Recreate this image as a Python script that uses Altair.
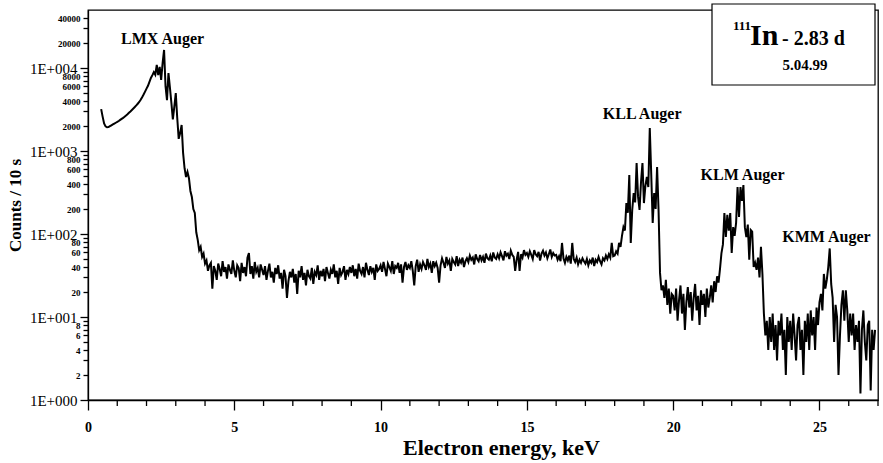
import altair as alt
import pandas as pd

FONT = "Liberation Serif"
STEP = 0.05  # keV between successive channel groups

# Counts / 10 s, one value per 0.05 keV, grouped by spectral region
lmx_start = 0.45
lmx_counts = [3200, 2600, 2150, 1980, 1930, 1940, 1990, 2040, 2090, 2140,
              2190, 2240, 2300, 2370, 2440, 2510, 2590, 2680, 2780, 2890,
              3000, 3120, 3250, 3390, 3540, 3710, 3900, 4150, 4450, 4800,
              5200, 5650, 6100, 6800, 7600, 8200, 8900, 8300, 10900, 8200,
              10300, 7200, 11500, 16500, 6000, 4100, 8700, 5800, 3800, 2400,
              3430, 5000, 2500, 1400, 1650, 2060, 950, 620, 486, 560,
              470, 330, 279, 200, 179, 105, 85, 64, 70, 53,
              58, 44, 48, 36, 42]

plateau_start = 4.20
plateau_counts = [
    45, 22, 41, 36, 28, 44, 38, 31, 47, 35, 40, 29, 43, 37, 33, 48,
    36, 30, 42, 39, 27, 45, 34, 40, 31, 52, 59, 33, 41, 29, 46, 35, 39, 30, 43, 37,
    32, 41, 28, 36, 44, 30, 35, 26, 39, 33, 42, 29, 34, 22, 37, 31, 17, 27, 35, 30,
    38, 26, 33, 19, 36, 30, 41, 28, 34, 24, 37, 31, 29, 39, 25, 35, 32, 42, 28, 36,
    31, 38, 27, 40, 34, 29, 37, 33, 43, 30, 36, 25, 39, 32, 35, 41, 28, 37, 33, 40,
    34, 42, 31, 38, 29, 44, 36, 33, 40, 30, 45, 37, 32, 41, 35, 39, 28, 43, 36, 38,
    42, 35, 46, 38, 31, 44, 40, 36, 47, 33, 41, 39, 45, 34, 43, 26, 40, 46, 37, 42,
    39, 47, 36, 24, 41, 49, 35, 43, 38, 46, 42, 37, 50, 40, 44, 34, 47, 41, 45, 39,
    26, 42, 51, 45, 39, 53, 44, 48, 36, 50, 46, 43, 54, 41, 49, 45, 52, 40, 47, 51,
    46, 55, 49, 52, 43, 57, 50, 47, 56, 48, 53, 45, 58, 51, 49, 55, 47, 60, 52, 50,
    57, 51, 60, 54, 48, 62, 55, 58, 50, 63, 56, 53, 36, 49, 61, 36, 57, 52, 64, 56,
    59, 53, 62, 56, 50, 64, 57, 54, 61, 48, 58, 63, 55, 60, 51, 57, 65, 53, 59, 55,
    56, 49, 54, 47, 78, 51, 45, 53, 48, 55, 44, 78, 50, 46, 52, 43, 49, 45, 51, 47,
    44, 50, 42, 48, 45, 52, 41, 49, 46, 53, 47, 43, 51, 48, 55, 50, 57, 52, 78, 54,
]

kll_start = 18.00
kll_counts = [
    55, 62, 58, 78, 70, 95, 121, 110, 236, 180, 514, 78, 195, 312, 240, 717, 280, 195, 420, 717,
    236, 380, 486, 368, 1893, 520, 136, 312, 200, 641, 195, 34, 21, 24, 17, 28, 14, 22, 11, 19,
]

klm_start = 20.00
klm_counts = [
    18, 12, 22, 9, 16, 24, 11, 19, 7, 15, 23, 13, 20, 9, 17, 25, 12, 18, 8, 21,
    14, 19, 10, 22, 13, 17, 24, 15, 27, 20, 31, 26, 38, 59, 75, 179, 92, 170, 110, 179,
    59, 121, 95, 136, 368, 160, 368, 250, 389, 121, 92, 130, 49, 112, 107, 40, 45, 37, 52, 30,
    70, 33, 11, 6,
]

kmm_start = 23.20
kmm_counts = [
    9, 4, 10, 5, 11, 4, 8, 3, 9, 6, 11, 4, 7, 2, 10, 5, 9, 4, 11, 6,
    3, 8, 10, 4, 7, 2, 9, 5, 11, 4, 12, 6, 10, 4, 13, 8, 15, 19, 12, 33,
    22, 28, 40, 67, 25, 17, 5, 14, 10, 2, 6, 14, 21, 9, 21, 12, 5, 11, 6, 11,
    4, 8, 5, 9, 1.2, 7, 12, 5, 3, 8, 9, 1.3, 7, 4, 7,
]

# Peak-group annotations (energy in keV, counts)
peak_names = ["LMX Auger", "KLL Auger", "KLM Auger", "KMM Auger"]
peak_label_energy = [2.55, 18.94, 22.37, 25.24]
peak_label_counts = [22400, 2790, 514, 91]

# Axis ticks
major_ticks = [1, 10, 100, 1000, 10000]
y_ticks = [m * 10 ** d for d in range(4) for m in range(1, 10)] + [10000, 20000, 30000, 40000]
labelled_minor = [2, 4, 6, 8, 20, 40, 60, 80, 200, 400, 600, 800,
                  2000, 4000, 6000, 8000, 20000, 40000]
x_major = [0, 5, 10, 15, 20, 25]
x_minor = [e for e in range(1, 28) if e % 5]

segments = [(lmx_start, lmx_counts), (plateau_start, plateau_counts),
            (kll_start, kll_counts), (klm_start, klm_counts), (kmm_start, kmm_counts)]
rows = []
for start, counts in segments:
    for i, c in enumerate(counts):
        rows.append({"energy": round(start + STEP * i, 3), "counts": c})
spectrum = pd.DataFrame(rows)

labels = pd.DataFrame({"name": peak_names, "energy": peak_label_energy,
                       "counts": peak_label_counts})
minor_x = pd.DataFrame({"energy": x_minor})

W, H = 790, 390
is_major = "indexof(%s, datum.value) >= 0" % str(major_ticks)
y_label_expr = (
    f"{is_major} ? '1E+00' + round(log(datum.value) / LN10) : "
    f"(indexof({labelled_minor}, datum.value) >= 0 ? '' + datum.value : '')"
)

x_scale = alt.Scale(domain=[0, 27], nice=False, zero=False)
y_scale = alt.Scale(type="log", domain=[1, 50000], nice=False)

line = alt.Chart(spectrum).mark_line(color="black", strokeWidth=2.0, clip=True).encode(
    x=alt.X("energy:Q", scale=x_scale, title="Electron energy, keV",
            axis=alt.Axis(values=x_major, grid=False, tickSize=10,
                          labelPadding=10, labelFont=FONT, labelFontSize=14,
                          labelFontWeight="bold", labelFlush=False, labelOverlap=False,
                          titleFont=FONT, titleFontSize=22, titleFontWeight="bold",
                          titleX=413, titleY=47, titleBaseline="middle")),
    y=alt.Y("counts:Q", scale=y_scale, title="Counts / 10 s",
            axis=alt.Axis(values=y_ticks, grid=False, labelExpr=y_label_expr,
                          tickSize={"condition": {"test": is_major, "value": 8}, "value": 5},
                          labelFontSize={"condition": {"test": is_major, "value": 15}, "value": 9},
                          labelFontWeight={"condition": {"test": is_major, "value": "normal"}, "value": "bold"},
                          labelPadding=3, labelFont=FONT, labelFlush=False, labelOverlap=False,
                          titleFont=FONT, titleFontSize=17, titleFontWeight="bold",
                          titleAngle=-90, titleX=-73, titleY=195,
                          titleAlign="center", titleBaseline="middle")),
)

# Unlabelled 1 keV ticks below the energy axis
minor_ticks = alt.Chart(minor_x).mark_rule(color="black", strokeWidth=1.3).encode(
    x=alt.X("energy:Q", scale=x_scale),
    y=alt.value(H), y2=alt.value(H + 6),
)

peak_text = alt.Chart(labels).mark_text(
    font=FONT, fontSize=16, fontWeight="bold", align="center", baseline="middle", color="black"
).encode(
    x=alt.X("energy:Q", scale=x_scale),
    y=alt.Y("counts:Q", scale=y_scale),
    text="name:N",
)

# Nuclide box in the upper right corner
one = pd.DataFrame({"k": [0]})
box = alt.Chart(one).mark_rect(fill="white", stroke="black", strokeWidth=1.2).encode(
    x=alt.value(624), x2=alt.value(787), y=alt.value(-6), y2=alt.value(75))


def box_text(txt, px, py, size, align="left"):
    return alt.Chart(one).mark_text(
        text=txt, font=FONT, fontSize=size, fontWeight="bold", align=align,
        baseline="alphabetic", color="black"
    ).encode(x=alt.value(px), y=alt.value(py))


chart = alt.layer(
    line, minor_ticks, peak_text, box,
    box_text("111", 645, 20, 13),
    box_text("In", 662, 35, 30),
    box_text("- 2.83 d", 694, 35, 20),
    box_text("5.04.99", 717, 60, 15, align="center"),
).properties(
    width=W, height=H,
    padding={"left": 88, "top": 10, "right": 5, "bottom": 63},
    autosize=alt.AutoSizeParams(type="none"),
    background="white",
).configure_view(stroke="black", strokeWidth=1.3).configure_axis(
    domainColor="black", tickColor="black", labelColor="black", titleColor="black",
    domainWidth=1.3, tickWidth=1.3, labelOverlap=False,
)

chart.save("out.html", embed_options={"renderer": "svg", "actions": False})
